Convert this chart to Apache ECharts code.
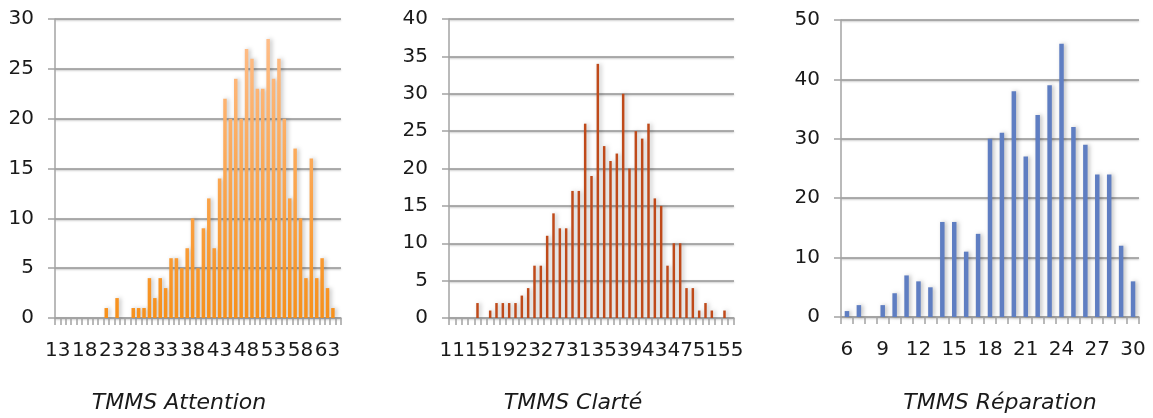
<!DOCTYPE html>
<html>
<head>
<meta charset="utf-8">
<title>TMMS</title>
<script src="https://cdn.jsdelivr.net/npm/echarts@6.0.0/dist/echarts.min.js"></script>
<style>
  html, body { margin: 0; padding: 0; background: #fff; }
  #main { width: 1153px; height: 418px; }
</style>
</head>
<body>
<div id="main"></div>
<script>
// TMMS Attention (scores 13..65)
const attentionCats = [13,14,15,16,17,18,19,20,21,22,23,24,25,26,27,28,29,30,31,32,33,34,35,36,37,38,39,
  40,41,42,43,44,45,46,47,48,49,50,51,52,53,54,55,56,57,58,59,60,61,62,63,64,65];
const attentionVals = [0,0,0,0,0,0,0,0,0,1,0,2,0,0,1,1,1,4,2,4,3,6,6,5,7,10,5,
  9,12,7,14,22,20,24,20,27,26,23,23,28,24,26,20,12,17,10,4,16,4,6,3,1,0];

// TMMS Clarté (scores 11..55)
const clarteCats = [11,12,13,14,15,16,17,18,19,20,21,22,23,24,25,26,27,28,29,30,31,32,33,
  34,35,36,37,38,39,40,41,42,43,44,45,46,47,48,49,50,51,52,53,54,55];
const clarteVals = [0,0,0,0,2,0,1,2,2,2,2,3,4,7,7,11,14,12,12,17,17,26,19,
  34,23,21,22,30,20,25,24,26,16,15,7,10,10,4,4,1,2,1,0,1,0];

// TMMS Réparation (scores 6..30)
const reparationCats = [6,7,8,9,10,11,12,13,14,15,16,17,18,19,20,21,22,23,24,25,26,27,28,29,30];
const reparationVals = [1,2,0,2,4,7,6,5,16,16,11,14,30,31,38,27,34,39,46,32,29,24,24,12,6];

const titles = ['TMMS Attention', 'TMMS Clarté', 'TMMS Réparation'];

const FONT = 'DejaVu Sans';
const TXT = '#1a1a1a';
const LINE = '#a3a3a3';

const chart = echarts.init(document.getElementById('main'));

// axe x commun
function xAxis(gridIndex, cats, labelInterval) {
  return {
    type: 'category',
    gridIndex: gridIndex,
    data: cats,
    axisLine: { lineStyle: { color: LINE, width: 1.5 } },
    axisTick: { show: true, interval: 0, length: 7, lineStyle: { color: LINE, width: 1.5 } },
    axisLabel: { interval: labelInterval, margin: 23, fontSize: 20, color: TXT, fontFamily: FONT }
  };
}

// axe y commun
function yAxis(gridIndex, max, step) {
  return {
    type: 'value',
    gridIndex: gridIndex,
    min: 0,
    max: max,
    interval: step,
    axisLine: { show: true, lineStyle: { color: LINE, width: 1.5 } },
    axisTick: { show: true, length: 7, lineStyle: { color: LINE, width: 1.5 } },
    axisLabel: { margin: 21, fontSize: 20, color: TXT, fontFamily: FONT },
    splitLine: {
      lineStyle: { color: '#949494', width: 1.5, shadowColor: 'rgba(0,0,0,0.25)', shadowBlur: 2, shadowOffsetY: 1 }
    }
  };
}

const barShadow = { shadowColor: 'rgba(0,0,0,0.25)', shadowBlur: 4, shadowOffsetX: 2 };

function titleText(x, text) {
  return {
    type: 'text', x: x, y: 403,
    style: { text: text, fontSize: 22, fontStyle: 'italic', fontFamily: FONT, fill: TXT, align: 'center', verticalAlign: 'middle' }
  };
}

chart.setOption({
  animation: false,
  grid: [
    { left: 55, width: 286, top: 19, bottom: 100 },
    { left: 449, width: 285, top: 19, bottom: 100 },
    { left: 841, width: 298, top: 20, bottom: 101 }
  ],
  xAxis: [
    xAxis(0, attentionCats, 4),
    xAxis(1, clarteCats, 3),
    xAxis(2, reparationCats, 2)
  ],
  yAxis: [
    yAxis(0, 30, 5),
    yAxis(1, 40, 5),
    yAxis(2, 50, 10)
  ],
  graphic: [
    titleText(179, titles[0]),
    titleText(573, titles[1]),
    titleText(1000, titles[2])
  ],
  series: [
    {
      name: titles[0],
      type: 'bar',
      xAxisIndex: 0,
      yAxisIndex: 0,
      data: attentionVals,
      barWidth: 3.5,
      itemStyle: Object.assign({
        // dégradé orange (clair en haut)
        color: new echarts.graphic.LinearGradient(0, 19, 0, 318, [
          { offset: 0, color: '#ffc090' },
          { offset: 1, color: '#f7901a' }
        ], true)
      }, barShadow)
    },
    {
      name: titles[1],
      type: 'bar',
      xAxisIndex: 1,
      yAxisIndex: 1,
      data: clarteVals,
      barWidth: 2.5,
      itemStyle: Object.assign({ color: '#bf4a1a' }, barShadow)
    },
    {
      name: titles[2],
      type: 'bar',
      xAxisIndex: 2,
      yAxisIndex: 2,
      data: reparationVals,
      barWidth: 4.5,
      itemStyle: Object.assign({ color: '#5f7ec2' }, barShadow)
    }
  ]
});
</script>
</body>
</html>
